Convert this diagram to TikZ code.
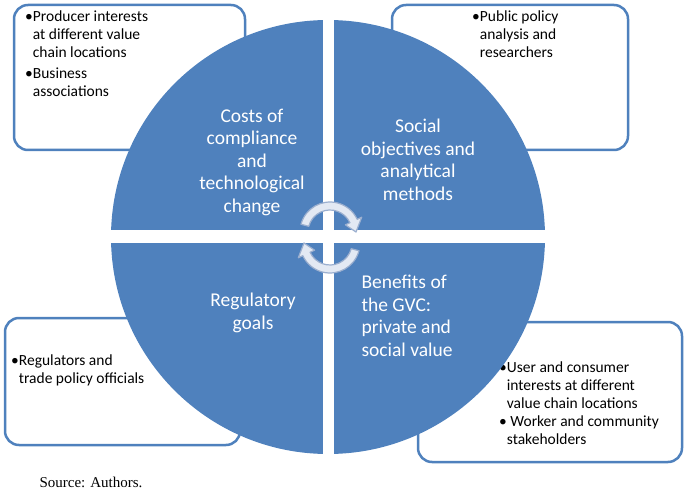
\documentclass[tikz,border=0pt]{standalone}
\usetikzlibrary{calc}
\usepackage{fontspec}
\setmainfont{Carlito}
\newfontfamily\srcfont{Liberation Serif}
\definecolor{qblue}{HTML}{4F81BD}
\definecolor{aline}{HTML}{9BAFCF}
\definecolor{afill}{HTML}{E3E9F3}
\begin{document}
\begin{tikzpicture}[x=1pt,y=-1pt,
  sbox/.style={draw=qblue,line width=2.5pt,rounded corners=14pt,fill=white},
  qtext/.style={text=white,font=\fontsize{19.5}{22.5}\selectfont,align=center},
  btext/.style={font=\fontsize{15.5}{18}\selectfont,align=left,anchor=north west,inner sep=0pt},
  carrow/.style={draw=aline,fill=afill,line width=1.2pt,line join=round}]
\useasboundingbox (0,0) rectangle (685,494);
\draw[sbox] (14,5) rectangle (245,150);
\draw[sbox] (392,5) rectangle (628,150);
\draw[sbox] (5,318) rectangle (240,445);
\draw[sbox] (418,322) rectangle (682,462);
\node[btext] (t1) at (25,11) {•Producer interests\\\hphantom{•}at different value\\\hphantom{•}chain locations};
\node[btext] (t2) at (25,68) {•Business\\\hphantom{•}associations};
\node[btext] (t3) at (472,11) {•Public policy\\\hphantom{•}analysis and\\\hphantom{•}researchers};
\node[btext] (t4) at (11,355) {•Regulators and\\\hphantom{•}trade policy officials};
\node[btext] (t5) at (499,362) {•User and consumer\\\hphantom{•}interests at different\\\hphantom{•}value chain locations\\• Worker and community\\\hphantom{•}stakeholders};
\fill[qblue] (328,237) circle (217);
\fill[white] (322.5,15) rectangle (333.5,460);
\fill[white] (105,230.5) rectangle (550,243.5);
\node[qtext] (q1) at (252,162) {Costs of\\compliance\\and\\technological\\change};
\node[qtext] (q2) at (418,160) {Social\\objectives and\\analytical\\methods};
\node[qtext] (q3) at (253,313) {Regulatory\\goals};
\node[qtext,align=left,anchor=west] (q4) at (358,316) {Benefits of\\the GVC:\\private and\\social value};
% circular arrows
\draw[carrow] ($(330,232)+(195:30)$) arc (195:335:30) -- ($(330,232)+(335:35)$) -- ($(330,232)+(360:26)$) -- ($(330,232)+(335:17)$) -- ($(330,232)+(335:22)$) arc (335:195:22) -- cycle;
\draw[carrow] ($(330,243)+(15:30)$) arc (15:155:30) -- ($(330,243)+(155:35)$) -- ($(330,243)+(180:26)$) -- ($(330,243)+(155:17)$) -- ($(330,243)+(155:22)$) arc (155:15:22) -- cycle;
\node[font=\srcfont\fontsize{15}{17}\selectfont,anchor=west] (src) at (36,482) {Source: Authors.};
\end{tikzpicture}
\end{document}
